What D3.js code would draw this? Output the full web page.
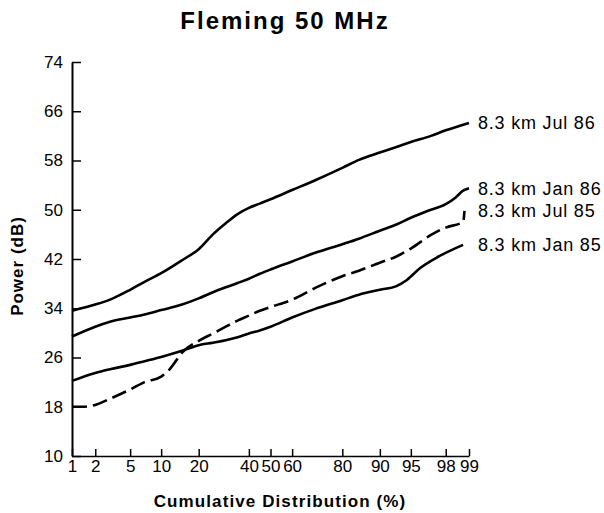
<!DOCTYPE html>
<html>
<head>
<meta charset="utf-8">
<script src="https://cdn.jsdelivr.net/npm/d3@7"></script>
<style>
  body { margin: 0; background: #fff; }
  svg { display: block; font-family: "Liberation Sans", Arial, Helvetica, sans-serif; }
</style>
</head>
<body>
<div id="root"></div>
<script>
// cumulative distribution (%) tick marks
const pctTicks = [1, 2, 5, 10, 20, 40, 50, 60, 80, 90, 95, 98, 99];
const powerTicks = [10, 18, 26, 34, 42, 50, 58, 66, 74];

// series: percent and power (dB)
const jul86Pct = [1, 2, 3, 5, 7, 10, 15, 20, 25, 30, 35, 40, 45, 50, 60, 70, 80, 85, 90, 93, 95, 97, 98, 99];
const jul86Db  = [33.6, 34.6, 35.4, 37.0, 38.3, 39.7, 41.8, 43.6, 46.0, 47.8, 49.3, 50.3, 51.0, 51.7, 53.2, 54.8, 56.8, 58.1, 59.3, 60.2, 61.0, 62.0, 62.9, 64.1];

const jan86Pct = [1, 2, 3, 5, 7, 10, 15, 20, 25, 30, 35, 40, 45, 50, 60, 70, 80, 85, 90, 93, 95, 96.7, 98, 98.5, 98.8, 99];
const jan86Db  = [29.4, 31.0, 31.8, 32.5, 33.0, 33.7, 34.6, 35.6, 36.6, 37.4, 38.1, 38.8, 39.6, 40.3, 41.6, 43.0, 44.4, 45.3, 46.6, 47.6, 48.7, 49.8, 50.9, 52.0, 53.1, 53.5];

const jul85Pct = [1, 1.4, 2, 3, 5, 7, 10, 12, 15, 20, 25, 30, 35, 40, 45, 50, 60, 70, 80, 85, 90, 93, 95, 97, 98, 98.7, 98.8, 98.85];
const jul85Db  = [18.0, 18.0, 18.3, 19.3, 20.8, 22.0, 22.9, 24.2, 26.8, 28.7, 29.9, 31.0, 32.0, 32.8, 33.6, 34.2, 35.4, 37.3, 39.2, 40.1, 41.4, 42.4, 43.7, 45.9, 47.1, 47.8, 48.0, 49.8];

const jan85Pct = [1, 2, 3, 5, 7, 10, 15, 20, 25, 30, 35, 40, 45, 50, 60, 70, 80, 85, 90, 93, 94.5, 96, 97.4, 98.8];
const jan85Db  = [22.2, 23.5, 24.1, 24.8, 25.4, 26.1, 27.1, 28.0, 28.4, 28.8, 29.3, 29.9, 30.4, 31.0, 32.5, 33.9, 35.3, 36.2, 37.0, 37.6, 38.6, 40.5, 42.2, 44.3];

const series = [
  { name: "8.3 km Jul 86", pct: jul86Pct, db: jul86Db, dash: null },
  { name: "8.3 km Jan 86", pct: jan86Pct, db: jan86Db, dash: null },
  { name: "8.3 km Jul 85", pct: jul85Pct, db: jul85Db, dash: "15,6" },
  { name: "8.3 km Jan 85", pct: jan85Pct, db: jan85Db, dash: null }
];

// inverse normal cdf (Acklam) for the probability axis
function probit(p) {
  const a = [-3.969683028665376e+01, 2.209460984245205e+02, -2.759285104469687e+02, 1.383577518672690e+02, -3.066479806614716e+01, 2.506628277459239e+00];
  const b = [-5.447609879822406e+01, 1.615858368580409e+02, -1.556989798598866e+02, 6.680131188771972e+01, -1.328068155288572e+01];
  const c = [-7.784894002430293e-03, -3.223964580411365e-01, -2.400758277161838e+00, -2.549732539343734e+00, 4.374664141464968e+00, 2.938163982698783e+00];
  const d = [7.784695709041462e-03, 3.224671290700398e-01, 2.445134137471128e+00, 3.754408661907416e+00];
  const plow = 0.02425;
  let q, r;
  if (p < plow) {
    q = Math.sqrt(-2 * Math.log(p));
    return (((((c[0]*q+c[1])*q+c[2])*q+c[3])*q+c[4])*q+c[5]) / ((((d[0]*q+d[1])*q+d[2])*q+d[3])*q+1);
  } else if (p <= 1 - plow) {
    q = p - 0.5; r = q * q;
    return (((((a[0]*r+a[1])*r+a[2])*r+a[3])*r+a[4])*r+a[5])*q / (((((b[0]*r+b[1])*r+b[2])*r+b[3])*r+b[4])*r+1);
  }
  q = Math.sqrt(-2 * Math.log(1 - p));
  return -(((((c[0]*q+c[1])*q+c[2])*q+c[3])*q+c[4])*q+c[5]) / ((((d[0]*q+d[1])*q+d[2])*q+d[3])*q+1);
}

const width = 604;
const height = 513;

const x = d3.scaleLinear()
    .domain([probit(0.01), probit(0.99)])
    .range([72, 469]);

const y = d3.scaleLinear()
    .domain([10, 74])
    .range([456, 62]);

const svg = d3.select("#root")
  .append("svg")
    .attr("width", width)
    .attr("height", height);

// title
svg.append("text")
    .attr("x", 285)
    .attr("y", 29)
    .attr("text-anchor", "middle")
    .attr("font-size", 24)
    .attr("font-weight", "bold")
    .attr("letter-spacing", 2)
    .text("Fleming 50 MHz");

// y axis
const yAxis = svg.append("g")
    .attr("transform", "translate(72,0)")
    .call(d3.axisLeft(y).tickValues(powerTicks).tickSize(-9).tickSizeOuter(0).tickPadding(9));

yAxis.select(".domain").attr("stroke-width", 2);
yAxis.selectAll(".tick line").attr("stroke-width", 1.5);
yAxis.selectAll(".tick text")
    .attr("font-size", 17)
    .attr("font-family", "Liberation Sans, Arial, sans-serif")
    .attr("fill", "#000");

// x axis on a probability scale
const xAxis = svg.append("g")
    .attr("transform", "translate(0,456)")
    .call(d3.axisBottom(x)
      .tickValues(pctTicks.map(p => probit(p / 100)))
      .tickFormat((d, i) => pctTicks[i])
      .tickSize(-7)
      .tickSizeOuter(0)
      .tickPadding(4));

xAxis.select(".domain").attr("stroke-width", 1.5);
xAxis.selectAll(".tick line").attr("stroke-width", 1.5);
xAxis.selectAll(".tick text")
    .attr("font-size", 17)
    .attr("font-family", "Liberation Sans, Arial, sans-serif")
    .attr("fill", "#000");

// axis titles
svg.append("text")
    .attr("transform", "translate(23,266) rotate(-90)")
    .attr("text-anchor", "middle")
    .attr("font-size", 17)
    .attr("font-weight", "bold")
    .attr("letter-spacing", 1)
    .text("Power (dB)");

svg.append("text")
    .attr("x", 280)
    .attr("y", 507)
    .attr("text-anchor", "middle")
    .attr("font-size", 17)
    .attr("font-weight", "bold")
    .attr("letter-spacing", 1.1)
    .text("Cumulative Distribution (%)");

// curves
const line = d3.line()
    .x(d => x(probit(d[0] / 100)))
    .y(d => y(d[1]))
    .curve(d3.curveMonotoneX);

const curves = svg.append("g");

curves.selectAll("path")
  .data(series)
  .join("path")
    .attr("d", s => line(s.pct.map((p, i) => [p, s.db[i]])))
    .attr("fill", "none")
    .attr("stroke", "#000")
    .attr("stroke-width", 2.6)
    .attr("stroke-dasharray", s => s.dash);

// end labels
svg.append("g")
  .selectAll("text")
  .data(series)
  .join("text")
    .attr("x", 478)
    .attr("y", s => y(s.db[s.db.length - 1]))
    .attr("dy", "0.36em")
    .attr("font-size", 18)
    .attr("letter-spacing", 0.8)
    .text(s => s.name);
</script>
</body>
</html>
